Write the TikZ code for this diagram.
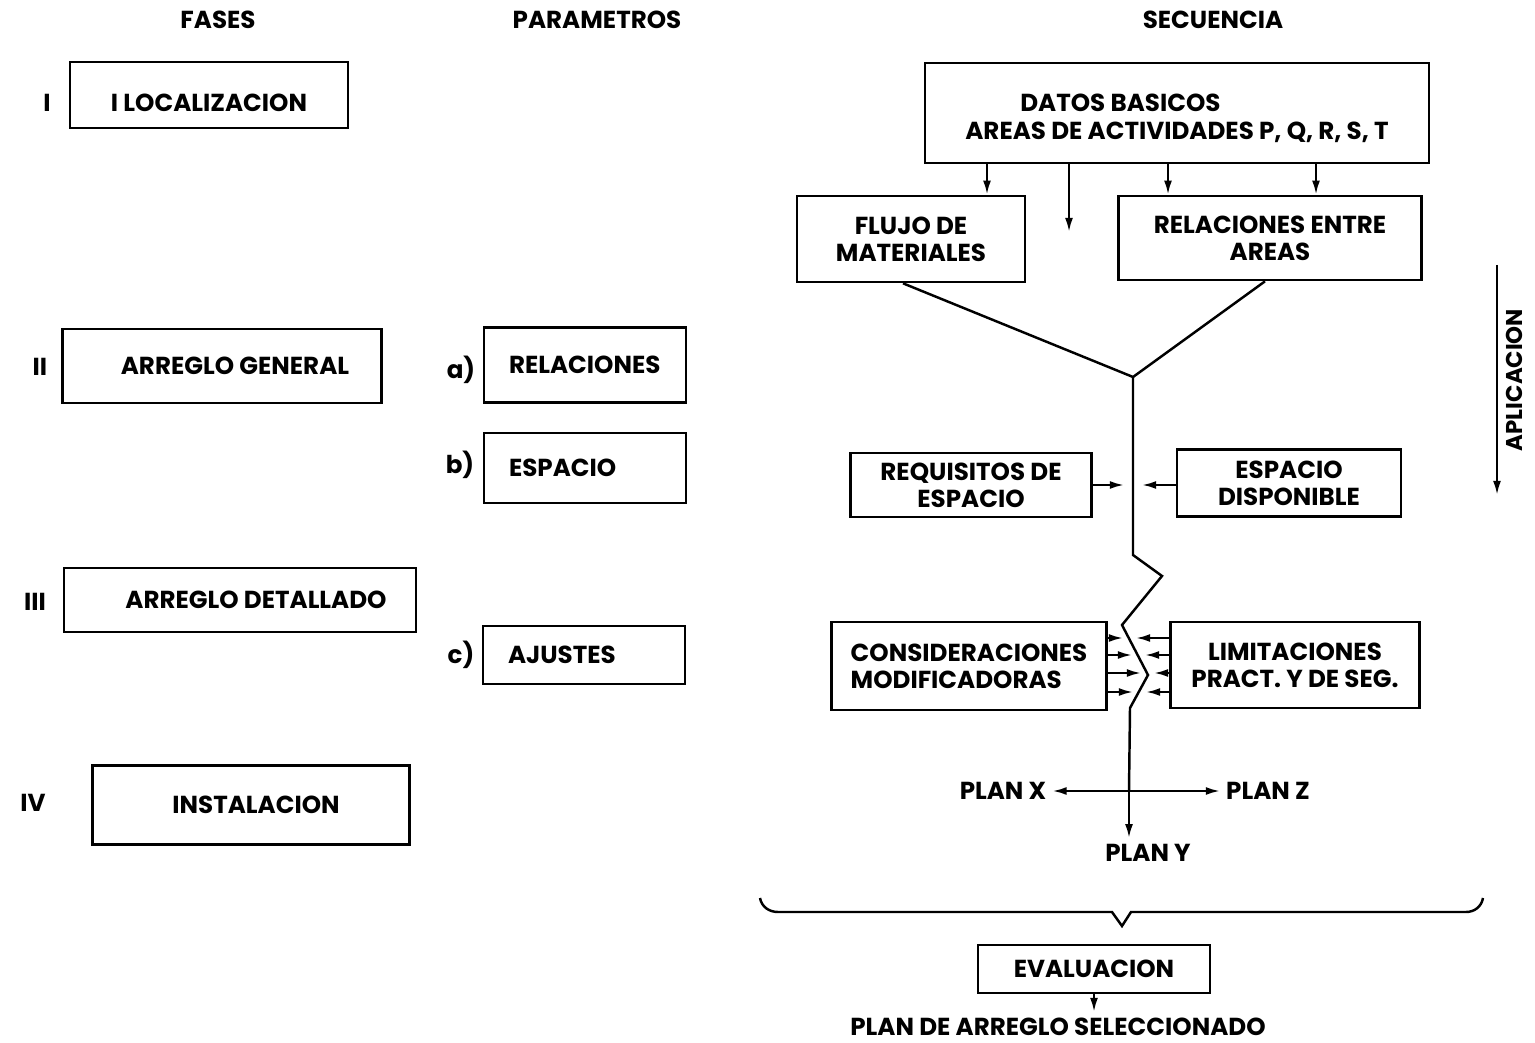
\documentclass[tikz,border=0pt]{standalone}
\usepackage{fontspec}
\setmainfont{Poppins}
\usetikzlibrary{arrows.meta}

\newcommand{\px}[1]{#1*0.02cm}
\newcommand{\baja}[2]{\raisebox{-#1}[\height][\depth]{#2}}

\tikzset{
	caja/.style={draw, line width=1.5pt, inner sep=0pt, align=center},
	param/.style={caja, inner xsep=\px{25}, text width=\px{152}, align=left},
	flecha/.style={-{Latex[length=8pt,width=4.5pt]}, line width=1.3pt},
	linea/.style={line width=1.4pt},
}

\begin{document}
\begin{tikzpicture}[x=0.02cm, y=-0.02cm, every node/.style={font=\fontsize{14}{15.5}\selectfont\bfseries}]
	\useasboundingbox (0,0) rectangle (1535,1043);

	% headings
	\node (fases) at (218,20) {FASES};
	\node (params) at (597,20) {PARAMETROS};
	\node (secuencia) at (1213,20) {SECUENCIA};

	% fases I..IV
	\node (n1) at (47,103) {I};
	\node (n2) at (40,367) {II};
	\node (n3) at (35,602) {III};
	\node (n4) at (33,803) {IV};
	\node[caja, minimum width=\px{278}, minimum height=\px{66}] (loc) at (209,95) {\baja{0.16cm}{I LOCALIZACION}};
	\node[caja, minimum width=\px{319}, minimum height=\px{74}] (gen) at (222,366) {\hspace*{0.52cm}ARREGLO GENERAL};
	\node[caja, minimum width=\px{352}, minimum height=\px{64}] (det) at (240,600) {\hspace*{0.64cm}ARREGLO DETALLADO};
	\node[caja, minimum width=\px{317}, minimum height=\px{79}] (ins) at (251,805) {\hspace*{0.2cm}INSTALACION};

	% parametros a), b), c)
	\node (pa) at (461,370) {a)};
	\node (pb) at (460,465) {b)};
	\node (pc) at (461,655) {c)};
	\node[param, minimum height=\px{75}] (rel) at (585,365) {RELACIONES};
	\node[param, minimum height=\px{70}] (esp) at (585,468) {ESPACIO};
	\node[param, minimum height=\px{58}] (aju) at (584,655) {AJUSTES};

	% secuencia, top
	\node[caja, align=left, minimum width=\px{504}, minimum height=\px{100}] (datos) at (1177,113)
		{\baja{0.1cm}{\hspace*{1.1cm}DATOS BASICOS}\\\baja{0.12cm}{AREAS DE ACTIVIDADES P, Q, R, S, T}};
	\node[caja, minimum width=\px{228}, minimum height=\px{86}] (flujo) at (911,239) {FLUJO DE\\MATERIALES};
	\node[caja, minimum width=\px{303}, minimum height=\px{84}] (relareas) at (1270,238) {RELACIONES ENTRE\\AREAS};

	\foreach \x/\t in {987/flujo, 1168/relareas, 1316/relareas}
		\draw[flecha] (datos.south -| \x,0) -- (\t.north -| \x,0);
	\coordinate (libre) at (1069,232);
	\draw[flecha] (datos.south -| libre) -- (libre);

	% the two branches meet
	\coordinate (junc) at (1133,377);
	\draw[linea] (flujo.south -| 903,0) -- (junc) -- (relareas.south -| 1265,0);

	% space boxes
	\node[caja, minimum width=\px{241}, minimum height=\px{64}] (req) at (971,485) {REQUISITOS DE\\ESPACIO};
	\node[caja, minimum width=\px{224}, minimum height=\px{67}] (disp) at (1289,483) {ESPACIO\\DISPONIBLE};
	\draw[flecha] (req.east) -- (req.east -| 1124,0);
	\draw[flecha] (disp.west |- req.east) -- (req.east -| 1142,0);

	% adjustments
	\node[caja, align=left, minimum width=\px{275}, minimum height=\px{88}] (cons) at (969,666) {CONSIDERACIONES\\MODIFICADORAS};
	\node[caja, minimum width=\px{249}, minimum height=\px{86}] (lim) at (1295,665) {LIMITACIONES\\PRACT. Y DE SEG.};

	% plans
	\node (planX) at (1003,791) {PLAN X};
	\node (planZ) at (1268,791) {PLAN Z};
	\node (planY) at (1148,853) {PLAN Y};
	\coordinate (cruce) at (1129,791);

	% main line with zigzag
	\draw[linea] (junc) -- (1133,555) -- (1162,576) -- (1122,625) -- (1148,675) -- (1130,708) -- (cruce);
	\draw[flecha] (cruce) -- (planY.north -| cruce);
	\draw[flecha] (cruce) -- (planX.east);
	\draw[flecha] (cruce) -- (planZ.west);

	\foreach \y/\z in {638/1129, 655/1138, 673/1147, 692/1139} {
		\draw[flecha] (cons.east |- 0,\y) -- (\z-6,\y);
		\draw[flecha] (lim.west |- 0,\y) -- (\z+7,\y);
	}

	% aplicacion
	\coordinate (apl1) at (1497,265);
	\coordinate (apl2) at (1497,495);
	\draw[flecha] (apl1) -- (apl2);
	\node[rotate=90, inner sep=0pt, font=\fontsize{13}{15}\selectfont\bfseries] (apl) at (1514,380) {APLICACION};

	% brace
	\draw[linea] (760,898) to[out=-80,in=180] (778,912) -- (1112,912) -- (1122,926) -- (1131,912)
		-- (1466,912) to[out=0,in=-100] (1483,898);

	% evaluacion
	\node[caja, minimum width=\px{232}, minimum height=\px{48}] (eval) at (1094,969) {EVALUACION};
	\node (sel) at (1058,1027) {PLAN DE ARREGLO SELECCIONADO};
	\draw[flecha] (eval.south) -- (eval.south |- sel.north);
\end{tikzpicture}
\end{document}
